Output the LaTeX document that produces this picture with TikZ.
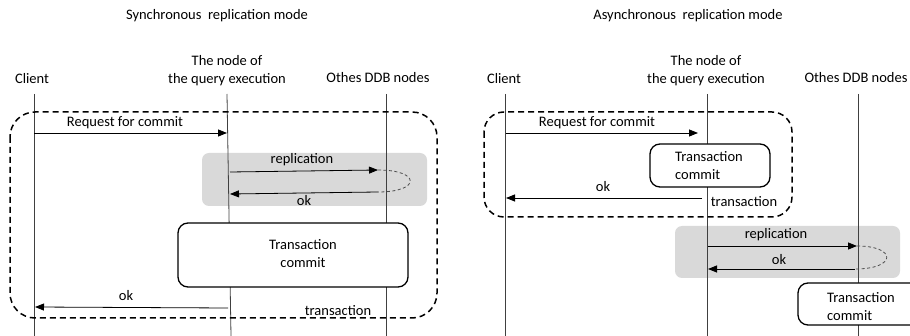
\documentclass[tikz,border=0pt]{standalone}
\usepackage{fontspec}
\setmainfont{Carlito}
\usetikzlibrary{positioning,arrows.meta}

\tikzset{
	lbl/.style={font=\fontsize{14.5}{18}\selectfont, inner sep=0pt},
	lifeline/.style={line width=0.8pt, black!75},
	msg/.style={line width=0.8pt, -{Triangle[length=9pt,width=7pt]}},
	outerbox/.style={line width=1.5pt, dash pattern=on 6pt off 4pt, rounded corners=25pt},
	shadebox/.style={fill=gray!30, draw=none, rounded corners=7pt},
	commitbox/.style={draw, line width=1.3pt, rounded corners=10pt, fill=white, inner sep=0pt},
	loopback/.style={line width=0.8pt, gray!60!black, dash pattern=on 3pt off 2.5pt}
}

\begin{document}
\begin{tikzpicture}[x=1pt,y=-1pt]
	\useasboundingbox (0,0) rectangle (910,336);
	% grey replication areas
	\fill [shadebox] (202,153) rectangle (427,206);
	\fill [shadebox] (675,226) rectangle (900,278);
	% headers
	\node [lbl] (sTitle) at (217,16) {Synchronous\ \ replication mode};
	\node [lbl] (aTitle) at (688,16) {Asynchronous\ \ replication mode};
	\node [lbl] (sClient) at (32,79) {Client};
	\node [lbl, align=center] (sNode) at (227,71) {The node of\\the query execution};
	\node [lbl] (sOthers) at (378,78) {Othes DDB nodes};
	\node [lbl] (aClient) at (504,79) {Client};
	\node [lbl, align=center] (aNode) at (706,71) {The node of\\the query execution};
	\node [lbl] (aOthers) at (856,78) {Othes DDB nodes};
	% lifelines
	\coordinate (sClientT) at (34,94);   \coordinate (sClientB) at (34,336);
	\coordinate (sNodeT) at (227,94);    \coordinate (sNodeB) at (231,336);
	\coordinate (sOthersT) at (386,94);  \coordinate (sOthersB) at (386,336);
	\coordinate (aClientT) at (505,94);  \coordinate (aClientB) at (505,336);
	\coordinate (aNodeT) at (707,94);    \coordinate (aNodeB) at (707,336);
	\coordinate (aOthersT) at (858,94);  \coordinate (aOthersB) at (858,336);
	\draw [lifeline] (sClientT)--(sClientB);
	\draw [lifeline] (sNodeT)--(sNodeB);
	\draw [lifeline] (sOthersT)--(sOthersB);
	\draw [lifeline] (aClientT)--(aClientB);
	\draw [lifeline] (aNodeT)--(aNodeB);
	\draw [lifeline] (aOthersT)--(aOthersB);
	% transaction frames
	\draw [outerbox] (10,112) rectangle (437,318);
	\draw [outerbox, rounded corners=20pt] (484,112) rectangle (792,217);
	% commit boxes
	\node [commitbox, minimum width=230pt, minimum height=64pt] (sCommit) at (293,255) {};
	\node [lbl, align=center] (sCommitTxt) at (303,254) {Transaction\\commit};
	\node [commitbox, minimum width=120pt, minimum height=43pt] (aCommit) at (710,165.5) {};
	\node [lbl, align=left, anchor=west] (aCommitTxt) at (675,165.5) {Transaction\\commit};
	\node [commitbox, minimum width=140pt, minimum height=42pt] (oCommit) at (868,304) {};
	\node [lbl, align=left, anchor=west] (oCommitTxt) at (827,306.5) {Transaction\\commit};
	% synchronous messages
	\coordinate (sReqA) at (34,133);   \coordinate (sReqB) at (227,133);
	\coordinate (sRepA) at (230,172);  \coordinate (sRepB) at (378,170);
	\coordinate (sAckA) at (378,192);  \coordinate (sAckB) at (230,194);
	\coordinate (sOkA) at (228,308);   \coordinate (sOkB) at (35,307);
	\draw [msg] (sReqA)--(sReqB);
	\draw [msg] (sRepA)--(sRepB);
	\draw [msg] (sAckA)--(sAckB);
	\draw [msg] (sOkA)--(sOkB);
	\draw [loopback] (sRepB) .. controls (421,170) and (421,192) .. (sAckA);
	\node [lbl] (sReqTxt) at (125,123) {Request for commit};
	\node [lbl] (sRepTxt) at (302,160) {replication};
	\node [lbl] (sAckTxt) at (304,201) {ok};
	\node [lbl] (sOkTxt) at (126,296) {ok};
	\node [lbl] (sTrTxt) at (338,311) {transaction};
	% asynchronous messages
	\coordinate (aReqA) at (506,133);  \coordinate (aReqB) at (698,133);
	\coordinate (aOkA) at (702,198);   \coordinate (aOkB) at (506,198);
	\coordinate (aRepA) at (708,246);  \coordinate (aRepB) at (857,246);
	\coordinate (aAckA) at (855,269);  \coordinate (aAckB) at (708,269);
	\draw [msg] (aReqA)--(aReqB);
	\draw [msg] (aOkA)--(aOkB);
	\draw [msg] (aRepA)--(aRepB);
	\draw [msg] (aAckA)--(aAckB);
	\draw [loopback] (aRepB) .. controls (897,246) and (897,269) .. (aAckA);
	\node [lbl] (aReqTxt) at (597,123) {Request for commit};
	\node [lbl] (aOkTxt) at (603,187) {ok};
	\node [lbl] (aTrTxt) at (744,202) {transaction};
	\node [lbl] (aRepTxt) at (776,235) {replication};
	\node [lbl] (aAckTxt) at (779,260) {ok};
\end{tikzpicture}
\end{document}
